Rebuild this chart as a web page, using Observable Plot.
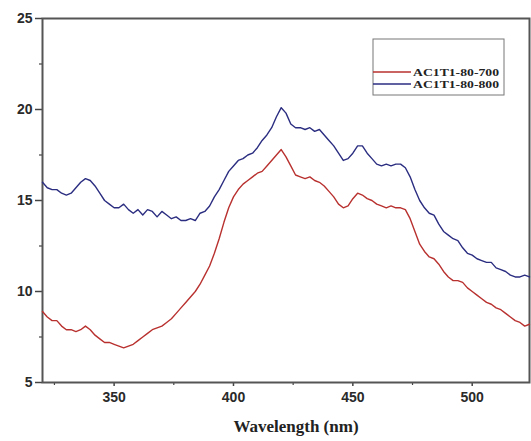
<!DOCTYPE html>
<html>
<head>
<meta charset="utf-8">
<script src="https://cdn.jsdelivr.net/npm/d3@7"></script>
<script src="https://cdn.jsdelivr.net/npm/@observablehq/plot@0.6"></script>
<style>
  html, body { margin: 0; padding: 0; background: #fff; }
  #chart { width: 531px; height: 441px; }
</style>
</head>
<body>
<div id="chart"></div>
<script>
const wavelength = d3.range(320, 525, 2);
const ac700 = [8.9,8.6,8.4,8.4,8.1,7.9,7.9,7.8,7.9,8.1,7.9,7.6,7.4,7.2,7.2,7.1,7.0,6.9,7.0,7.1,
  7.3,7.5,7.7,7.9,8.0,8.1,8.3,8.5,8.8,9.1,9.4,9.7,10.0,10.4,10.9,11.4,12.1,12.9,13.8,14.6,
  15.2,15.6,15.9,16.1,16.3,16.5,16.6,16.9,17.2,17.5,17.8,17.4,16.9,16.4,16.3,16.2,16.3,16.1,16.0,15.8,
  15.5,15.2,14.8,14.6,14.7,15.1,15.4,15.3,15.1,15.0,14.8,14.7,14.6,14.7,14.6,14.6,14.5,14.0,13.3,12.6,
  12.2,11.9,11.8,11.5,11.1,10.8,10.6,10.6,10.5,10.2,10.0,9.8,9.6,9.4,9.3,9.1,9.0,8.8,8.6,8.4,
  8.3,8.1,8.2];
const ac800 = [16.0,15.7,15.6,15.6,15.4,15.3,15.4,15.7,16.0,16.2,16.1,15.8,15.4,15.0,14.8,14.6,14.6,14.8,14.5,14.3,
  14.5,14.2,14.5,14.4,14.1,14.4,14.2,14.0,14.1,13.9,13.9,14.0,13.9,14.3,14.4,14.7,15.2,15.6,16.1,16.6,
  16.9,17.2,17.3,17.5,17.6,17.9,18.3,18.6,19.0,19.6,20.1,19.8,19.2,19.0,19.0,18.9,19.0,18.8,18.9,18.6,
  18.3,18.0,17.6,17.2,17.3,17.6,18.0,18.0,17.6,17.3,17.0,16.9,17.0,16.9,17.0,17.0,16.8,16.3,15.6,15.0,
  14.6,14.3,14.2,13.7,13.3,13.1,12.9,12.8,12.4,12.1,12.0,11.8,11.7,11.6,11.6,11.3,11.2,11.1,10.9,10.8,
  10.8,10.9,10.8];
const seriesNames = ["AC1T1-80-700", "AC1T1-80-800"];
const seriesColors = ["#b8312f", "#2b2d80"];
const xMajor = [350, 400, 450, 500];
const xMinor = [325, 375, 425, 475];
const yMajor = [5, 10, 15, 20, 25];
const yMinor = [7.5, 12.5, 17.5, 22.5];

const rows = [];
wavelength.forEach((w, i) => {
  rows.push({w, v: ac700[i], s: seriesNames[0]});
  rows.push({w, v: ac800[i], s: seriesNames[1]});
});

const sans = "'Liberation Sans', Arial, sans-serif";
const serif = "'Liberation Serif', 'Times New Roman', serif";

const plot = Plot.plot({
  width: 531,
  height: 441,
  marginLeft: 42,
  marginRight: 2,
  marginTop: 18,
  marginBottom: 59,
  style: {background: "#fff", fontFamily: sans, fontSize: "14px", fontWeight: "bold", color: "#2a2a2a"},
  x: {domain: [320, 524]},
  y: {domain: [5, 25]},
  color: {domain: seriesNames, range: seriesColors},
  marks: [
    Plot.axisX({ticks: xMajor, tickSize: 4, tickPadding: 6, label: null, fontSize: 14, fontWeight: "bold", stroke: "#444", strokeWidth: 1.5}),
    Plot.axisX({ticks: xMinor, tickSize: 3, text: null, label: null, stroke: "#444", strokeWidth: 1.2}),
    Plot.axisY({ticks: yMajor, tickSize: 7, tickPadding: 3, label: null, fontSize: 14, fontWeight: "bold", stroke: "#444", strokeWidth: 1.5}),
    Plot.axisY({ticks: yMinor, tickSize: 3, text: null, label: null, stroke: "#444", strokeWidth: 1.2}),
    Plot.frame({stroke: "#555", strokeWidth: 2}),
    Plot.line(rows, {x: "w", y: "v", z: "s", stroke: "s", strokeWidth: 1.4, curve: "linear"})
  ]
});

const svg = d3.select(plot);
// x-axis title
svg.append("text")
  .attr("x", 296).attr("y", 432)
  .attr("text-anchor", "middle")
  .attr("font-family", serif).attr("font-weight", "bold").attr("font-size", 17)
  .attr("fill", "#222")
  .text("Wavelength (nm)");

// legend
const lg = svg.append("g").attr("transform", "translate(373,39)");
lg.append("rect").attr("width", 131).attr("height", 56)
  .attr("fill", "#fff").attr("stroke", "#777").attr("stroke-width", 1);
seriesNames.forEach((name, i) => {
  const yy = 33 + i * 12;
  lg.append("line").attr("x1", 0).attr("x2", 38).attr("y1", yy).attr("y2", yy)
    .attr("stroke", seriesColors[i]).attr("stroke-width", 1.5);
  lg.append("text").attr("x", 40).attr("y", yy).attr("dy", "0.35em")
    .attr("text-anchor", "start")
    .attr("font-family", serif).attr("font-weight", "bold").attr("font-size", 11)
    .attr("textLength", 86).attr("lengthAdjust", "spacingAndGlyphs")
    .attr("fill", "#222").text(name);
});

document.getElementById("chart").appendChild(plot);
</script>
</body>
</html>
